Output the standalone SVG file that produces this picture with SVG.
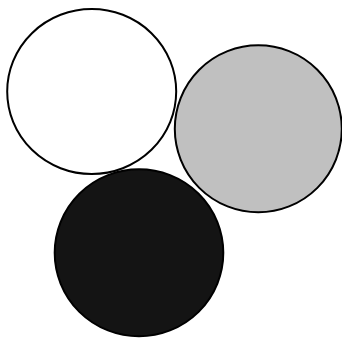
<svg xmlns="http://www.w3.org/2000/svg" width="342" height="339" viewBox="0 0 342 339">
<style>
.c{stroke:#000;stroke-width:2}
</style>
<rect width="342" height="339" fill="#fff"/>
<g id="circle-white"><ellipse class="c" cx="91.7" cy="91.5" rx="84.5" ry="82.5" fill="#fff"/></g>
<g id="circle-gray"><ellipse class="c" cx="258.3" cy="128.8" rx="83.5" ry="83.5" fill="#c0c0c0"/></g>
<g id="circle-black"><ellipse class="c" cx="139" cy="252.8" rx="84.3" ry="83.5" fill="#141414"/></g>
<g id="connectors"/>
</svg>
